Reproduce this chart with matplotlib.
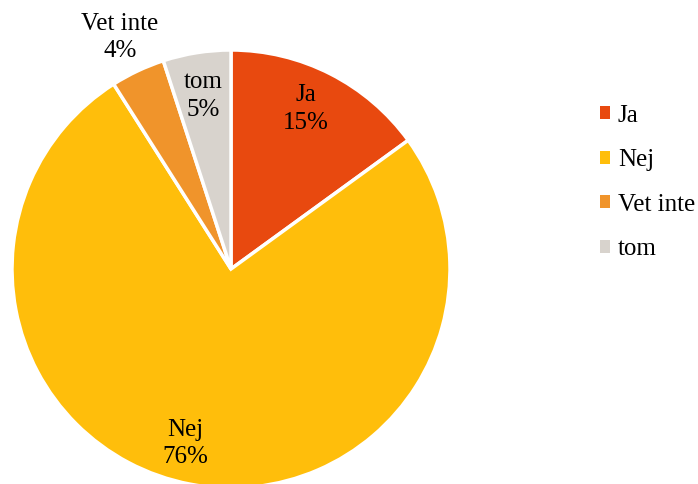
import matplotlib
matplotlib.use("Agg")
import matplotlib.pyplot as plt
from matplotlib.patches import Patch
import numpy as np

categories = ["Ja", "Nej", "Vet inte", "tom"]
values = [15, 76, 4, 5]
colors = ["#E8490F", "#FFBE0B", "#F0942B", "#D8D3CD"]

plt.rcParams['font.family'] = ['Liberation Serif', 'DejaVu Serif']
FS = 18

fig = plt.figure(figsize=(6.98, 4.84), dpi=100)
W, H = 698, 484
cx, cy, r = 231, 269, 219
ax = fig.add_axes([(cx - r) / W, (H - cy - r) / H, 2 * r / W, 2 * r / H])

wedges, _ = ax.pie(values, colors=colors, startangle=90, counterclock=False,
                   radius=1, wedgeprops=dict(edgecolor='white', linewidth=2.5))
ax.set_xlim(-1, 1)
ax.set_ylim(-1, 1)
ax.set_aspect('equal')
ax.axis('off')
for w in wedges:
    w.set_clip_on(False)

label_dist = [0.82, 0.80, 1.19, 0.81]
label_dx = [-0.03, -0.06, 0.0, 0.0]
label_dy = [0.0, -0.01, -0.02, -0.01]
for w, cat, val, d, dx, dy in zip(wedges, categories, values, label_dist, label_dx, label_dy):
    ang = np.deg2rad((w.theta1 + w.theta2) / 2)
    x, y = d * np.cos(ang) + dx, d * np.sin(ang) + dy
    ax.text(x, y, f"{cat}\n{val}%", ha='center', va='center', fontsize=FS,
            linespacing=1.3, clip_on=False)

handles = [Patch(facecolor=c, edgecolor='none') for c in colors]
fig.legend(handles, categories, loc='center left', bbox_to_anchor=(0.860, 0.623),
           frameon=False, fontsize=FS, handlelength=0.4, handleheight=0.4,
           handletextpad=0.3, labelspacing=0.9, borderpad=0, borderaxespad=0)

fig.savefig("out.png", dpi=100)
